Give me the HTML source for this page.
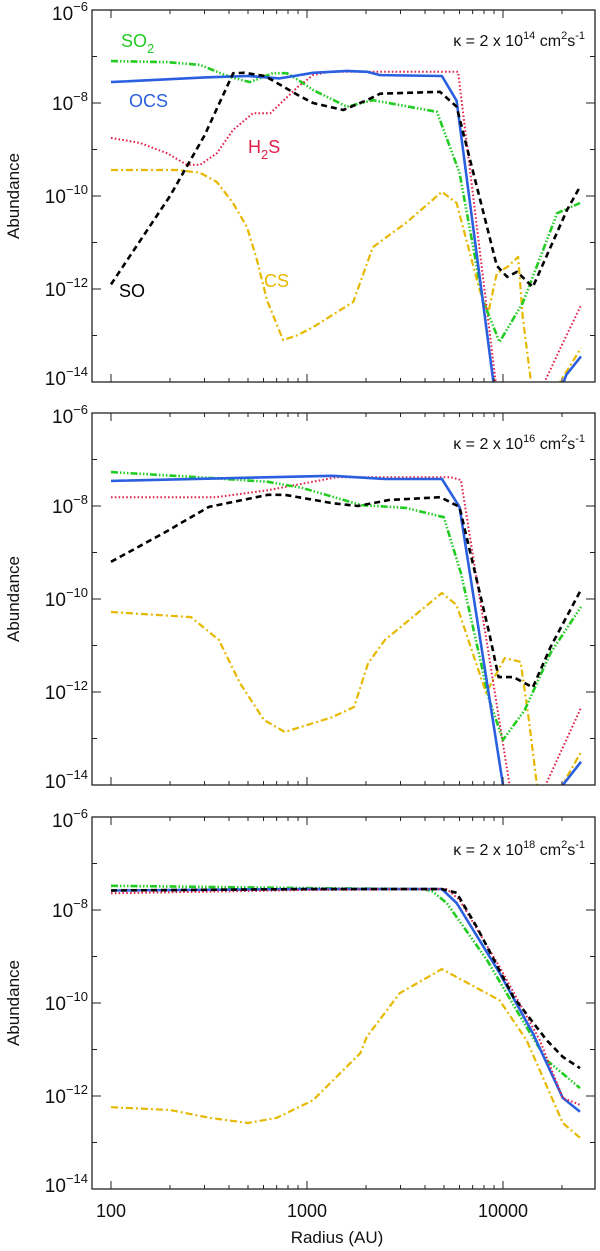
<!DOCTYPE html>
<html><head><meta charset="utf-8"><style>
html,body{margin:0;padding:0;background:#fff;}
svg{display:block;font-family:"Liberation Sans",sans-serif;}
</style></head><body>
<svg id="chart" width="600" height="1251" viewBox="0 0 600 1251"></svg>
<script>
// ---- data (radius in AU, log10 abundance) ----
const panelKappa = ["14","16","18"];
const xTickValues = [100,1000,10000];
const xTickLabels = ["100","1000","10000"];
const yTickExps = [-6,-8,-10,-12,-14];

// Panel 1
const p1_OCS_r = [100,300,500,725,1074,1600,2020,2360,4880,5800,9000];
const p1_OCS_a = [-7.55,-7.45,-7.42,-7.47,-7.35,-7.31,-7.33,-7.4,-7.42,-7.95,-14.1];
const p1_OCS2_r = [20000,21000,25000];
const p1_OCS2_a = [-14.1,-13.85,-13.45];
const p1_SO_r = [100,200,300,420,480,610,900,1074,1530,2020,2360,4770,5800,8300,9300,10500,11800,14200,21200,24700];
const p1_SO_a = [-11.9,-10.0,-8.7,-7.36,-7.35,-7.42,-7.83,-8.0,-8.15,-7.94,-7.8,-7.76,-8.08,-10.67,-11.5,-11.74,-11.63,-11.96,-10.3,-9.8];
const p1_SO2_r = [100,193,285,405,512,670,790,900,1074,1600,2170,4600,6000,7900,9600,12600,18900,24700];
const p1_SO2_a = [-7.1,-7.12,-7.18,-7.44,-7.55,-7.36,-7.36,-7.5,-7.72,-8.08,-7.94,-8.19,-9.5,-12.24,-13.14,-12.3,-10.37,-10.15];
const p1_H2S_r = [100,141,193,244,285,347,419,530,650,900,1074,1300,2000,5900,9300];
const p1_H2S_a = [-8.75,-8.86,-9.08,-9.33,-9.33,-9.08,-8.58,-8.22,-8.22,-7.65,-7.4,-7.33,-7.33,-7.33,-14.2];
const p1_H2S2_r = [15900,20000,25000];
const p1_H2S2_a = [-14.1,-13.2,-12.35];
const p1_CS_r = [100,217,285,347,419,494,556,625,755,900,1074,1720,2170,3240,4880,5800,7600,8400,9300,10500,11950,12600,14000];
const p1_CS_a = [-9.44,-9.44,-9.5,-9.7,-10.15,-10.67,-11.38,-12.24,-13.1,-12.99,-12.82,-12.28,-11.1,-10.56,-9.91,-10.15,-12.02,-12.52,-11.66,-11.53,-11.31,-12.6,-14.1];
const p1_CS2_r = [18900,25000];
const p1_CS2_a = [-14.1,-13.27];

// Panel 2
const p2_OCS_r = [100,1350,2500,4880,6000,10000];
const p2_OCS_a = [-7.46,-7.35,-7.42,-7.42,-8.02,-14.0];
const p2_OCS2_r = [20200,25000];
const p2_OCS2_a = [-14.0,-13.5];
const p2_SO_r = [100,186,316,632,770,1350,1820,2620,4800,6000,8500,9500,11300,14200,17500,25000];
const p2_SO_a = [-9.2,-8.58,-8.02,-7.76,-7.76,-7.94,-8.0,-7.87,-7.81,-8.02,-10.73,-11.68,-11.68,-11.9,-11.03,-9.8];
const p2_SO2_r = [100,278,632,945,1890,3190,4990,6100,8500,10000,12900,17500,25000];
const p2_SO2_a = [-7.27,-7.38,-7.48,-7.61,-7.98,-8.04,-8.24,-9.44,-12.17,-13.03,-12.39,-11.16,-10.17];
const p2_H2S_r = [100,343,632,1420,5400,6100,10900];
const p2_H2S_a = [-7.81,-7.81,-7.66,-7.38,-7.38,-7.44,-14.1];
const p2_H2S2_r = [16100,25000];
const p2_H2S2_a = [-14.1,-12.34];
const p2_CS_r = [100,256,355,455,603,770,1350,1740,2050,2500,4880,5800,8200,10200,12300,13500,15000];
const p2_CS_a = [-10.28,-10.39,-10.88,-11.81,-12.6,-12.86,-12.54,-12.32,-11.38,-10.88,-9.87,-10.13,-12.02,-11.27,-11.35,-12.54,-14.1];
const p2_CS2_r = [19500,25000];
const p2_CS2_a = [-14.1,-13.29];

// Panel 3
const p3_OCS_r = [100,1000,4880,5800,9600,14200,20200,24700];
const p3_OCS_a = [-7.58,-7.55,-7.55,-7.85,-9.35,-10.65,-12.04,-12.34];
const p3_SO_r = [100,1000,4880,5800,7360,11300,16700,20200,24700];
const p3_SO_a = [-7.58,-7.55,-7.55,-7.63,-8.37,-9.87,-10.8,-11.16,-11.4];
const p3_SO2_r = [100,1000,4000,4400,5160,8300,13200,16700,24700];
const p3_SO2_a = [-7.48,-7.53,-7.55,-7.61,-7.85,-9.08,-10.52,-11.23,-11.83];
const p3_H2S_r = [100,1000,5160,6000,9600,15400,20200,24700];
const p3_H2S_a = [-7.64,-7.57,-7.55,-7.78,-9.22,-10.8,-12.04,-12.19];
const p3_CS_r = [100,200,320,500,700,1074,1870,2020,2970,4880,9600,13200,20200,24700];
const p3_CS_a = [-12.24,-12.3,-12.47,-12.58,-12.47,-12.09,-11.08,-10.73,-9.79,-9.27,-9.94,-10.8,-12.58,-12.9];

// ---- layout ----
const NS="http://www.w3.org/2000/svg";
const svg=document.getElementById('chart');
const X0=111, XD=196, LEFT=92, RIGHT=595;
const panelTops=[10,413,817];
const PH=372, YD=46.5;
function xs(r){return X0+XD*(Math.log10(r)-2);}
function ys(top,a){return top+YD*(-6-a);}
function mk(tag,attrs,parent){const e=document.createElementNS(NS,tag);for(const k in attrs)e.setAttribute(k,attrs[k]);(parent||svg).appendChild(e);return e;}

const styles={
 SO:{stroke:"#000",w:2.6,dash:"6,4"},
 SO2:{stroke:"#22cc22",w:2.6,dash:"7,2,1.5,2,1.5,2,1.5,2"},
 OCS:{stroke:"#2a5fe0",w:2.6,dash:""},
 H2S:{stroke:"#e0204a",w:2,dash:"1.6,2.2"},
 CS:{stroke:"#e6b800",w:2.2,dash:"7,3,2,3"}
};
const panels=[
 {lines:[["CS",p1_CS_r,p1_CS_a],["CS",p1_CS2_r,p1_CS2_a],["H2S",p1_H2S_r,p1_H2S_a],["H2S",p1_H2S2_r,p1_H2S2_a],["SO2",p1_SO2_r,p1_SO2_a],["OCS",p1_OCS_r,p1_OCS_a],["OCS",p1_OCS2_r,p1_OCS2_a],["SO",p1_SO_r,p1_SO_a]]},
 {lines:[["CS",p2_CS_r,p2_CS_a],["CS",p2_CS2_r,p2_CS2_a],["H2S",p2_H2S_r,p2_H2S_a],["H2S",p2_H2S2_r,p2_H2S2_a],["SO2",p2_SO2_r,p2_SO2_a],["OCS",p2_OCS_r,p2_OCS_a],["OCS",p2_OCS2_r,p2_OCS2_a],["SO",p2_SO_r,p2_SO_a]]},
 {lines:[["CS",p3_CS_r,p3_CS_a],["SO2",p3_SO2_r,p3_SO2_a],["OCS",p3_OCS_r,p3_OCS_a],["H2S",p3_H2S_r,p3_H2S_a],["SO",p3_SO_r,p3_SO_a]]}
];

const defs=mk('defs',{});
panels.forEach((p,i)=>{
  const top=panelTops[i], bot=top+PH;
  const g=mk('g',{});
  
  
  const cp=mk('clipPath',{id:'clip'+i},defs);
  mk('rect',{x:LEFT,y:top,width:RIGHT-LEFT,height:PH},cp);
  const sg=mk('g',{'clip-path':'url(#clip'+i+')'},g);
  p.lines.forEach(([name,rs,as])=>{
    const s=styles[name];
    const pts=rs.map((r,k)=>xs(r).toFixed(1)+','+ys(top,as[k]).toFixed(1)).join(' ');
    const pl=mk('polyline',{points:pts,fill:'none',stroke:s.stroke,'stroke-width':s.w,'stroke-dasharray':s.dash,'stroke-linejoin':'round'},sg);
    
    
  });
  const fr=mk('rect',{x:LEFT,y:top,width:RIGHT-LEFT,height:PH,fill:'none',stroke:'#222','stroke-width':1.3},g);
  
  
  for(let dec=100;dec<=10000;dec*=10){
    for(let m=1;m<=9;m++){
      const v=dec*m; if(v>30000)break;
      const x=xs(v); if(x>RIGHT)break;
      const L=m===1?8:4;
      mk('line',{x1:x,x2:x,y1:bot,y2:bot-L,stroke:'#222','stroke-width':1},g);
      mk('line',{x1:x,x2:x,y1:top,y2:top+L,stroke:'#222','stroke-width':1},g);
    }
  }
  for(let e=-6;e>=-14;e--){
    const y=ys(top,e); const L=(e%2===0)?9:5;
    mk('line',{x1:LEFT,x2:LEFT+L,y1:y,y2:y,stroke:'#222','stroke-width':1},g);
    mk('line',{x1:RIGHT,x2:RIGHT-L,y1:y,y2:y,stroke:'#222','stroke-width':1},g);
  }
  yTickExps.forEach(e=>{
    const y=ys(top,e);
    const t=mk('text',{x:88,y:y+(e===-6?10:(e===-14?3:7)),'text-anchor':'end','font-size':19,fill:'#111'},g);
    
    
    t.appendChild(document.createTextNode('10'));
    const sp=mk('tspan',{dy:-9,'font-size':13},t); sp.textContent='\u2212'+(-e);
  });
  const yt=mk('text',{x:0,y:0,transform:'translate(19,'+(top+PH/2)+') rotate(-90)','text-anchor':'middle','font-size':17,fill:'#111'},g);
  
  
  yt.textContent='Abundance';
  const kt=mk('text',{x:585,y:top+(i===2?38:36),'text-anchor':'end','font-size':16,fill:'#111'},g);
  
  
  kt.appendChild(document.createTextNode('\u03ba = 2 x 10'));
  let sp=mk('tspan',{dy:-7,'font-size':11},kt); sp.textContent=panelKappa[i];
  sp=mk('tspan',{dy:7},kt); sp.textContent=' cm';
  sp=mk('tspan',{dy:-7,'font-size':11},kt); sp.textContent='2';
  sp=mk('tspan',{dy:7},kt); sp.textContent='s';
  sp=mk('tspan',{dy:-7,'font-size':11},kt); sp.textContent='-1';
});
xTickValues.forEach((v,k)=>{
  const t=mk('text',{x:xs(v),y:1217,'text-anchor':'middle','font-size':18,fill:'#111'});
  
  
  t.textContent=xTickLabels[k];
});
const xt=mk('text',{x:xs(1000)+30,y:1243,'text-anchor':'middle','font-size':17,fill:'#111'});


xt.textContent='Radius (AU)';
</script>
<svg width="600" height="1251" style="position:absolute;left:0;top:0;font-family:'Liberation Sans',sans-serif">
  <text x="121" y="47" font-size="18" fill="#22cc22">SO<tspan dy="6" font-size="13">2</tspan></text>
  <text x="129" y="107" font-size="18" fill="#2a5fe0">OCS</text>
  <text x="248" y="153" font-size="18" fill="#e0204a">H<tspan dy="6" font-size="13">2</tspan><tspan dy="-6">S</tspan></text>
  <text x="264" y="287" font-size="18" fill="#e6b800">CS</text>
  <text x="119" y="297" font-size="18" fill="#000">SO</text>
</svg>
</body></html>
